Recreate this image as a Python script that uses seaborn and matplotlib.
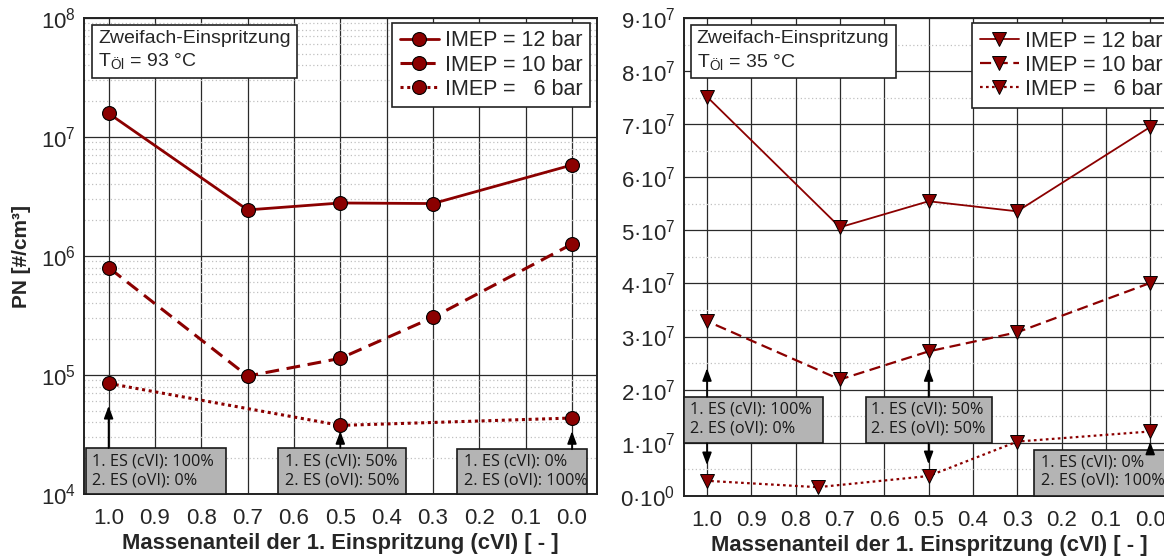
import numpy as np
import pandas as pd
import matplotlib
matplotlib.use("Agg")
import matplotlib.pyplot as plt
import seaborn as sns
from matplotlib.patches import Rectangle
from matplotlib.ticker import FixedLocator, FixedFormatter, NullFormatter

# ---- data -------------------------------------------------------------
x_ticks = [1.0, 0.9, 0.8, 0.7, 0.6, 0.5, 0.4, 0.3, 0.2, 0.1, 0.0]
x_tick_labels = ["1.0", "0.9", "0.8", "0.7", "0.6", "0.5", "0.4", "0.3", "0.2", "0.1", "0.0"]

# oil temperature 93 °C
x93 = [1.0, 0.7, 0.5, 0.3, 0.0]
pn93_12bar = [1.58e7, 2.44e6, 2.79e6, 2.76e6, 5.82e6]
pn93_10bar = [8.0e5, 9.8e4, 1.38e5, 3.05e5, 1.26e6]
x93_6bar = [1.0, 0.5, 0.0]
pn93_6bar = [8.5e4, 3.77e4, 4.35e4]

# oil temperature 35 °C
x35 = [1.0, 0.7, 0.5, 0.3, 0.0]
pn35_12bar = [7.52e7, 5.06e7, 5.55e7, 5.36e7, 6.95e7]
pn35_10bar = [3.29e7, 2.19e7, 2.72e7, 3.08e7, 4.01e7]
x35_6bar = [1.0, 0.75, 0.5, 0.3, 0.0]
pn35_6bar = [0.28e7, 0.16e7, 0.37e7, 1.02e7, 1.21e7]

labels = ["IMEP = 12 bar", "IMEP = 10 bar", "IMEP =   6 bar"]

y93_ticks = [1e4, 1e5, 1e6, 1e7, 1e8]
y93_labels = [r"$\mathregular{10^{4}}$", r"$\mathregular{10^{5}}$", r"$\mathregular{10^{6}}$",
              r"$\mathregular{10^{7}}$", r"$\mathregular{10^{8}}$"]
y35_ticks = [0, 1e7, 2e7, 3e7, 4e7, 5e7, 6e7, 7e7, 8e7, 9e7]
y35_labels = [r"$\mathregular{0·10^{0}}$"] + [r"$\mathregular{%d·10^{7}}$" % k for k in range(1, 10)]

notes = ["1. ES (cVI): 100%\n2. ES (oVI): 0%",
         "1. ES (cVI): 50%\n2. ES (oVI): 50%",
         "1. ES (cVI): 0%\n2. ES (oVI): 100%"]

# ---- style ------------------------------------------------------------
sns.set_style("white")
plt.rcParams["font.family"] = ["Liberation Sans", "DejaVu Sans"]
plt.rcParams["mathtext.fontset"] = "custom"
plt.rcParams["mathtext.rm"] = "Liberation Sans"
plt.rcParams["mathtext.it"] = "Liberation Sans:italic"
plt.rcParams["mathtext.bf"] = "Liberation Sans:bold"

RED = "#8b0000"
BOXGRAY = "#b4b4b4"
NOTE_FONT = ["Open Sans", "DejaVu Sans"]

fig = plt.figure(figsize=(11.64, 5.58), dpi=100)
ax1 = fig.add_axes([0.0722, 0.1147, 0.4407, 0.853])
ax2 = fig.add_axes([0.5872, 0.1117, 0.4215, 0.8556])


def style_axes(ax, minor_y):
    ax.set_xlim(1.053, -0.054)
    ax.xaxis.set_major_locator(FixedLocator(x_ticks))
    ax.xaxis.set_major_formatter(FixedFormatter(x_tick_labels))
    ax.xaxis.set_minor_locator(FixedLocator(np.arange(0.05, 1.0, 0.1)))
    ax.yaxis.set_minor_locator(FixedLocator(minor_y))
    ax.yaxis.set_minor_formatter(NullFormatter())
    ax.grid(True, which="major", color="#2a2a2a", lw=0.9)
    ax.grid(True, which="minor", axis="y", color="#c0c0c0", lw=0.9, linestyle=(0, (1, 2)))
    ax.tick_params(which="both", direction="in", labelsize=16, color="#222222")
    ax.tick_params(axis="y", pad=6)
    ax.tick_params(axis="x", pad=10)
    ax.tick_params(which="major", length=5, width=0.9)
    ax.tick_params(which="minor", length=3.5, width=0.8)
    for sp in ax.spines.values():
        sp.set_color("#222222")
        sp.set_linewidth(1.4)
    ax.set_axisbelow(True)
    ax.set_xlabel("Massenanteil der 1. Einspritzung (cVI) [ - ]", fontsize=15.8,
                  fontweight="bold", labelpad=3)


def add_notes(ax, boxes, text_pos, arrows):
    for (x0, x1, y0, y1), (tx, ty), note in zip(boxes, text_pos, notes):
        ax.add_patch(Rectangle((x0, y0), x1 - x0, y1 - y0, transform=ax.transAxes,
                               facecolor=BOXGRAY, edgecolor="#1a1a1a", lw=1.2,
                               zorder=5, clip_on=False))
        ax.text(tx, ty, note, transform=ax.transAxes, ha="left", va="center",
                fontsize=11.7, family=NOTE_FONT, color="#1a1a1a", linespacing=1.2,
                zorder=6)
    for xd, ytail, ytip in arrows:
        ax.annotate("", xy=(xd, ytip), xytext=(xd, ytail),
                    xycoords=("data", "axes fraction"), textcoords=("data", "axes fraction"),
                    arrowprops=dict(arrowstyle="-|>,head_length=0.75,head_width=0.28",
                                    color="black", lw=1.2, shrinkA=0, shrinkB=0,
                                    mutation_scale=10),
                    zorder=6)


def add_header(ax, temp):
    ax.text(0.027, 0.975, "Zweifach-Einspritzung\nT$_{\\mathregular{Öl}}$ = %d °C" % temp,
            transform=ax.transAxes, ha="left", va="top", fontsize=14, linespacing=1.3,
            bbox=dict(boxstyle="square,pad=0.32", facecolor="white", edgecolor="#222222", lw=1.2),
            zorder=7)


# ---- left: 93 °C, logarithmic ------------------------------------------
sns.lineplot(x=x93, y=pn93_12bar, ax=ax1, color=RED, lw=2.0, marker="o", markersize=10,
             markeredgecolor="black", markeredgewidth=0.8, label=labels[0], zorder=4)
sns.lineplot(x=x93, y=pn93_10bar, ax=ax1, color=RED, lw=2.2, linestyle=(0, (4.5, 2.5)),
             marker="o", markersize=10, markeredgecolor="black", markeredgewidth=0.8,
             label=labels[1], zorder=4)
sns.lineplot(x=x93_6bar, y=pn93_6bar, ax=ax1, color=RED, lw=2.2, linestyle=(0, (1.0, 1.2)),
             marker="o", markersize=10, markeredgecolor="black", markeredgewidth=0.8,
             label=labels[2], zorder=4)
ax1.set_yscale("log")
ax1.set_ylim(1e4, 1e8)
ax1.yaxis.set_major_locator(FixedLocator(y93_ticks))
ax1.yaxis.set_major_formatter(FixedFormatter(y93_labels))
minor93 = [m * 10.0 ** e for e in range(4, 8) for m in range(2, 10)]
style_axes(ax1, minor93)
ax1.set_ylabel("PN [#/cm³]", fontsize=15, fontweight="bold", labelpad=7)
ax1.legend(loc="upper right", bbox_to_anchor=(0.987, 0.99), borderaxespad=0, fontsize=15.5,
           frameon=True, fancybox=False, edgecolor="#222222", framealpha=1,
           handlelength=1.8, handletextpad=0.3, labelspacing=0.15, borderpad=0.35)
ax1.get_legend().get_frame().set_linewidth(1.2)
add_header(ax1, 93)
add_notes(ax1,
          boxes=[(0.003, 0.276, 0.0, 0.0966), (0.378, 0.628, 0.0, 0.0966), (0.727, 0.981, 0.0, 0.094)],
          text_pos=[(0.016, 0.048), (0.391, 0.048), (0.740, 0.048)],
          arrows=[(1.0, 0.0966, 0.185), (0.5, 0.0966, 0.132), (0.0, 0.094, 0.132)])

# ---- right: 35 °C, linear ----------------------------------------------
sns.lineplot(x=x35, y=pn35_12bar, ax=ax2, color=RED, lw=1.3, marker="v", markersize=10,
             markeredgecolor="black", markeredgewidth=0.7, label=labels[0], zorder=4)
sns.lineplot(x=x35, y=pn35_10bar, ax=ax2, color=RED, lw=1.6, linestyle=(0, (5, 2.5)),
             marker="v", markersize=10, markeredgecolor="black", markeredgewidth=0.7,
             label=labels[1], zorder=4)
sns.lineplot(x=x35_6bar, y=pn35_6bar, ax=ax2, color=RED, lw=1.6, linestyle=(0, (1.2, 1.5)),
             marker="v", markersize=10, markeredgecolor="black", markeredgewidth=0.7,
             label=labels[2], zorder=4)
ax2.set_ylim(0, 9e7)
ax2.yaxis.set_major_locator(FixedLocator(y35_ticks))
ax2.yaxis.set_major_formatter(FixedFormatter(y35_labels))
style_axes(ax2, np.arange(0.5e7, 9e7, 1e7))
ax2.set_ylabel("")
ax2.legend(loc="upper right", bbox_to_anchor=(0.992, 0.99), borderaxespad=0, fontsize=15.5,
           frameon=True, fancybox=False, edgecolor="#222222", framealpha=1,
           handlelength=1.8, handletextpad=0.3, labelspacing=0.15, borderpad=0.35)
ax2.get_legend().get_frame().set_linewidth(1.2)
add_header(ax2, 35)
add_notes(ax2,
          boxes=[(0.002, 0.284, 0.1098, 0.2074), (0.371, 0.629, 0.1098, 0.2074), (0.7134, 0.99, 0.0, 0.0957)],
          text_pos=[(0.0135, 0.161), (0.383, 0.161), (0.728, 0.051)],
          arrows=[(1.0, 0.2074, 0.267), (1.0, 0.1098, 0.064),
                  (0.5, 0.2074, 0.267), (0.5, 0.1098, 0.066),
                  (0.0, 0.0957, 0.113)])

fig.savefig("out.png", dpi=100)
